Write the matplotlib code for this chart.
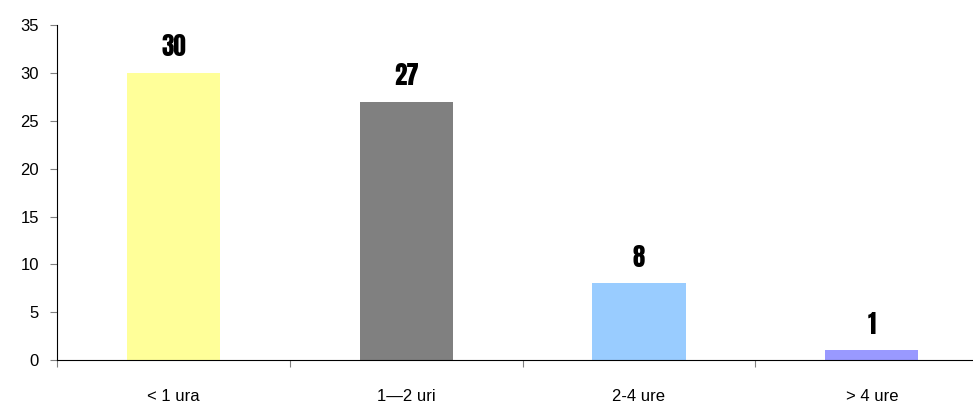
import matplotlib.pyplot as plt

categories = ["< 1 ura", "1\u20142 uri", "2-4 ure", "> 4 ure"]
values = [30, 27, 8, 1]
colors = ["#FFFF99", "#808080", "#99CCFF", "#9999FF"]

plt.rcParams['font.family'] = ['Liberation Sans', 'DejaVu Sans']

fig = plt.figure(figsize=(9.73, 4.05), dpi=100)
ax = fig.add_axes([0.0586, 0.111, 0.957, 0.827])

x = list(range(len(categories)))
ax.bar(x, values, width=0.4, color=colors)

# value labels above the bars, condensed heavy font
for xi, v in zip(x, values):
    ax.annotate(str(v), (xi, v), xytext=(0, 12), textcoords="offset points",
                ha="center", va="baseline", fontsize=18,
                family=["Anton", "Bebas Neue", "Liberation Sans Narrow", "DejaVu Sans"])

ax.set_xlim(-0.5, 3.5)
ax.set_ylim(0, 35)
ax.set_yticks(range(0, 36, 5))
ax.set_xticks([i - 0.5 for i in range(5)])
ax.set_xticklabels([])
ax.set_xticks(x, minor=True)
ax.set_xticklabels(categories, minor=True)
ax.tick_params(axis="x", which="minor", length=0, pad=21, labelsize=12)
ax.tick_params(axis="x", which="major", length=5, color="#808080", direction="out")
ax.tick_params(axis="y", length=5, color="#808080", labelsize=12, pad=8)

ax.spines["top"].set_visible(False)
ax.spines["right"].set_visible(False)

fig.savefig("out.png", dpi=100)
